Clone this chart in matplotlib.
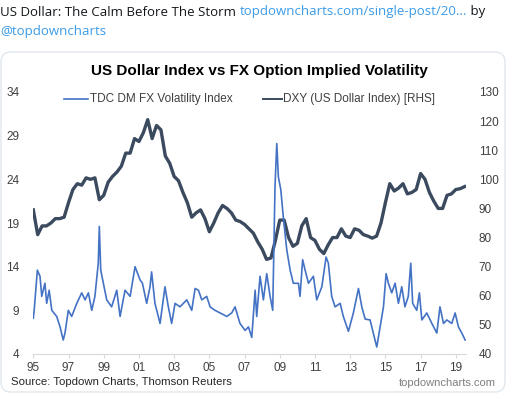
import numpy as np
import matplotlib
matplotlib.use('Agg')
import matplotlib.pyplot as plt
from matplotlib.lines import Line2D
from matplotlib.patches import FancyBboxPatch

# DXY (US Dollar Index), quarterly readings, right axis
dxy_dates = np.arange(1995.0, 2019.51, 0.25)
dxy_values = [
    89.5, 81.0, 84.0, 84.0,    # 1995
    85.0, 86.5, 86.5, 87.0,    # 1996
    92.0, 96.5, 98.5, 98.0,    # 1997
    100.5, 100.0, 100.5, 93.0,  # 1998
    94.5, 99.0, 101.0, 102.5,  # 1999
    104.5, 109.0, 109.0, 114.0,  # 2000
    113.0, 116.0, 120.5, 114.0,  # 2001
    118.5, 117.0, 108.0, 105.5,  # 2002
    101.0, 99.5, 95.5, 92.0,   # 2003
    87.0, 88.5, 89.5, 86.5,    # 2004
    82.0, 85.0, 88.5, 91.0,    # 2005
    90.0, 88.5, 86.0, 85.5,    # 2006
    84.5, 83.0, 81.5, 78.5,    # 2007
    76.0, 72.5, 73.0, 79.0,    # 2008
    86.0, 86.0, 80.0, 77.0,    # 2009
    78.0, 84.0, 86.5, 80.0,    # 2010
    79.0, 76.0, 74.5, 77.5,    # 2011
    80.0, 80.0, 83.0, 80.5,    # 2012
    80.0, 83.0, 82.5, 81.0,    # 2013
    80.5, 79.8, 80.5, 85.0,    # 2014
    92.0, 98.5, 96.0, 97.0,    # 2015
    98.5, 95.0, 95.5, 96.5,    # 2016
    102.0, 100.0, 95.5, 92.5,  # 2017
    90.0, 90.0, 94.5, 95.0,    # 2018
    96.5, 96.8, 97.5,          # 2019
]

# TDC DM FX Volatility Index, left axis
vol_dates = [
    1995.00, 1995.05, 1995.23, 1995.38, 1995.48, 1995.66, 1995.76, 1995.90,
    1996.05, 1996.33, 1996.52, 1996.70, 1996.80, 1996.99, 1997.18, 1997.47,
    1997.75, 1997.94, 1998.13, 1998.32, 1998.50, 1998.69, 1998.75, 1998.83,
    1998.98, 1999.17, 1999.45, 1999.74, 1999.93, 2000.21, 2000.50, 2000.78,
    2001.06, 2001.20, 2001.44, 2001.63, 2001.72, 2001.91, 2002.20, 2002.48,
    2002.67, 2002.86, 2003.05, 2003.33, 2003.72, 2004.00, 2004.19, 2004.38,
    2004.57, 2004.85, 2005.04, 2005.32, 2005.61, 2005.99, 2006.27, 2006.46,
    2006.74, 2007.03, 2007.22, 2007.41, 2007.60, 2007.69, 2007.88, 2008.07,
    2008.26, 2008.45, 2008.60, 2008.73, 2008.83, 2008.92, 2009.06, 2009.20,
    2009.40, 2009.59, 2009.77, 2010.06, 2010.15, 2010.30, 2010.44, 2010.63,
    2010.91, 2011.10, 2011.39, 2011.63, 2011.76, 2011.95, 2012.14, 2012.43,
    2012.61, 2012.90, 2013.18, 2013.47, 2013.66, 2013.85, 2014.13, 2014.41,
    2014.51, 2014.70, 2014.89, 2015.04, 2015.17, 2015.36, 2015.55, 2015.74,
    2015.93, 2016.11, 2016.30, 2016.44, 2016.55, 2016.78, 2016.93, 2017.07,
    2017.35, 2017.64, 2017.92, 2018.10, 2018.30, 2018.49, 2018.77, 2018.96,
    2019.15, 2019.34, 2019.53,
]
vol_values = [
    8.1, 9.0, 13.6, 12.9, 10.6, 12.1, 9.8, 11.3,
    9.0, 8.3, 7.1, 5.6, 6.4, 9.0, 8.3, 9.8,
    11.0, 10.2, 11.0, 9.0, 10.6, 14.4, 18.6, 13.6,
    12.1, 10.2, 9.4, 11.3, 8.3, 11.3, 10.6, 14.0,
    12.5, 12.1, 9.8, 11.7, 13.4, 9.8, 7.5, 11.7,
    9.4, 7.5, 9.8, 9.4, 10.2, 9.0, 11.5, 11.3,
    10.2, 10.6, 9.4, 9.0, 8.7, 8.3, 8.7, 9.4,
    7.5, 6.7, 7.1, 5.9, 11.3, 8.3, 12.9, 10.2,
    13.2, 10.6, 9.0, 23.2, 28.1, 24.3, 22.8, 19.7,
    15.9, 13.6, 12.1, 12.1, 10.6, 14.8, 13.6, 12.1,
    12.9, 10.2, 11.7, 15.1, 14.4, 10.6, 9.4, 9.8,
    8.3, 6.6, 8.7, 11.5, 9.4, 8.0, 7.9, 5.6,
    4.8, 7.1, 9.4, 13.2, 12.1, 11.0, 12.1, 9.8,
    11.7, 9.4, 10.6, 14.4, 9.8, 9.0, 11.0, 7.9,
    8.7, 7.5, 6.4, 9.4, 7.5, 7.9, 7.5, 8.7,
    7.1, 6.4, 5.6,
]

year_ticks = list(range(1995, 2020, 2))
year_labels = ['%02d' % (y % 100) for y in year_ticks]
left_ticks = [4, 9, 14, 19, 24, 29, 34]
right_ticks = [40, 50, 60, 70, 80, 90, 100, 110, 120, 130]

VOL_COLOR = '#4472c4'
DXY_COLOR = '#3b4a5e'
TEXT_COLOR = '#404040'
W, H = 512, 399

plt.rcParams['font.family'] = ['Liberation Sans', 'DejaVu Sans']
fig = plt.figure(figsize=(W / 100, H / 100), dpi=100)
fig.patch.set_facecolor('white')

# card frame like the tweet embed, kept behind the axes
card = FancyBboxPatch((0.01, 0.07), 5.04, 3.40, boxstyle='round,pad=0,rounding_size=0.1',
                      transform=fig.dpi_scale_trans, facecolor='white',
                      edgecolor='#e1e8ed', linewidth=1.0, zorder=-5)
fig.add_artist(card)

# tweet header
hdr = dict(fontsize=9.5, family=['Open Sans', 'DejaVu Sans'], va='center')
t1 = fig.text(0, 1 - 12 / H, 'US Dollar: The Calm Before The Storm ', color='#14171a', **hdr)
fig.canvas.draw()
r = fig.canvas.get_renderer()
x1 = t1.get_window_extent(r).x1 / W
t2 = fig.text(x1, 1 - 12 / H, 'topdowncharts.com/single-post/20...', color='#3b9be8', **hdr)
x2 = t2.get_window_extent(r).x1 / W
fig.text(x2, 1 - 12 / H, ' by', color='#14171a', **hdr)
fig.text(0, 1 - 31 / H, '@topdowncharts', color='#3b9be8', **hdr)

# axes
left, right = 33.3 / W, 465.5 / W
bottom, top = 1 - 354 / H, 1 - 92 / H
ax = fig.add_axes([left, bottom, right - left, top - bottom])
ax2 = ax.twinx()

ax2.plot(dxy_dates, dxy_values, color=DXY_COLOR, lw=2.4)
ax.plot(vol_dates, vol_values, color=VOL_COLOR, lw=1.2)
ax.set_zorder(ax2.get_zorder() + 1)
ax.patch.set_visible(False)

ax.set_xlim(1995.0, 2019.55)
ax.set_ylim(4, 34)
ax2.set_ylim(40, 130)
ax.set_yticks(left_ticks)
ax2.set_yticks(right_ticks)
ax.set_xticks(year_ticks)
ax.set_xticklabels(year_labels)

for a in (ax, ax2):
    for s in ('top', 'left', 'right', 'bottom'):
        a.spines[s].set_visible(False)
ax.spines['bottom'].set_visible(True)
ax.spines['bottom'].set_color('#d9d9d9')
ax.tick_params(axis='x', length=3, color='#d9d9d9', labelsize=8.5, labelcolor=TEXT_COLOR, pad=3)
ax.tick_params(axis='y', length=0, labelsize=8.5, labelcolor=TEXT_COLOR, pad=10)
ax2.tick_params(axis='y', length=0, labelsize=8.5, labelcolor=TEXT_COLOR, pad=9.5)

# title and legend
fig.text(259 / W, 1 - 71 / H, 'US Dollar Index vs FX Option Implied Volatility',
         fontsize=11, fontweight='bold', color='#000000', ha='center', va='center')
ly = 1 - 99 / H
fig.add_artist(Line2D([64 / W, 88 / W], [ly, ly], color=VOL_COLOR, lw=1.2))
fig.text(90 / W, ly, 'TDC DM FX Volatility Index', fontsize=8.5, color=TEXT_COLOR, va='center')
fig.add_artist(Line2D([263 / W, 282 / W], [ly, ly], color=DXY_COLOR, lw=1.4))
fig.text(283 / W, ly, 'DXY (US Dollar Index) [RHS]', fontsize=8.5, color=TEXT_COLOR, va='center')

# footer
fig.text(11 / W, 1 - 382 / H, 'Source: Topdown Charts, Thomson Reuters', fontsize=8.2,
         color='#262626', va='center')
fig.text(496 / W, 1 - 383 / H, 'topdowncharts.com', fontsize=8, color='#7f7f7f',
         ha='right', va='center')

fig.savefig('out.png', dpi=100, facecolor='white')
